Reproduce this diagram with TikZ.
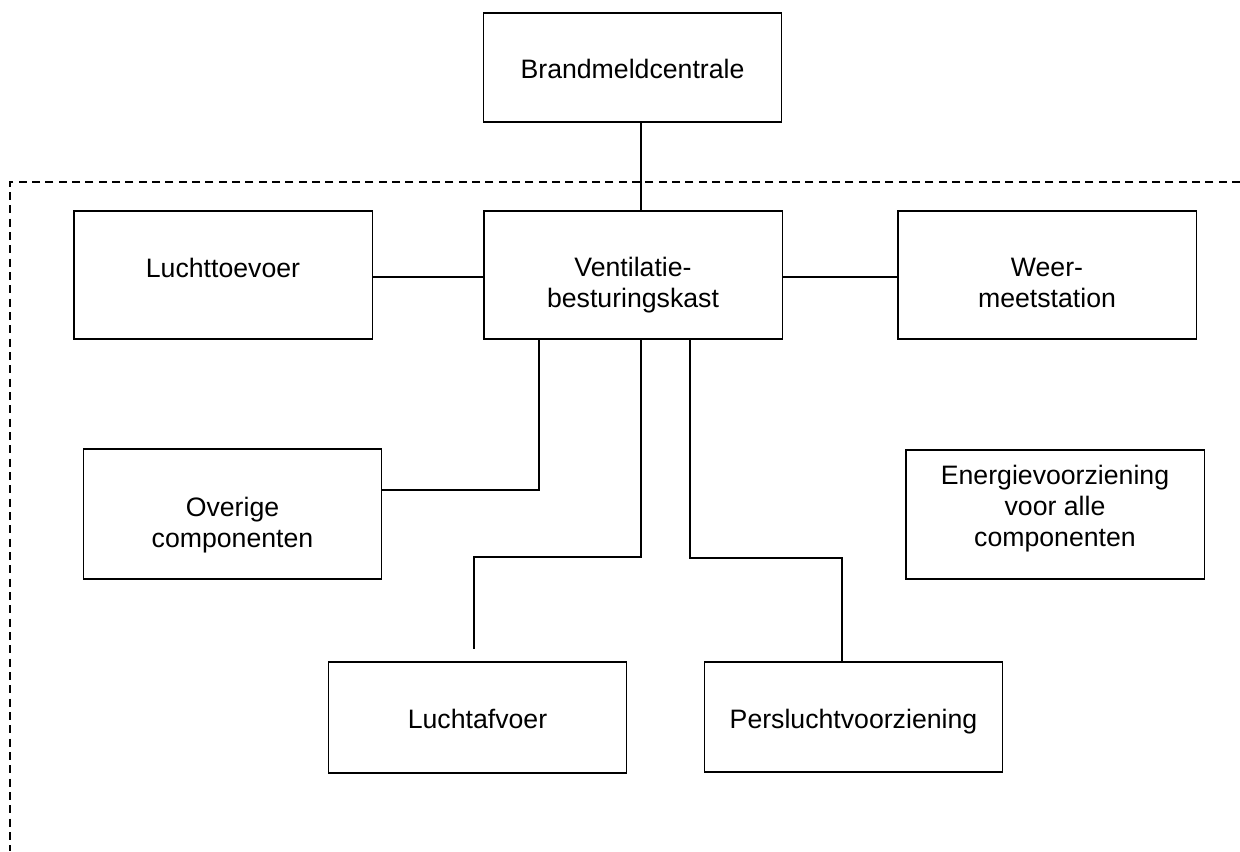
\documentclass[tikz,border=0pt]{standalone}
\usepackage{fontspec}
\setmainfont{Liberation Sans}
\begin{document}
\begin{tikzpicture}[x=0.75pt,y=-0.75pt,
  box/.style={draw,line width=1pt,rectangle,inner sep=0pt,minimum width=223.75pt},
  lbl/.style={anchor=base,align=center,inner sep=0pt,font=\fontsize{20}{23.2}\selectfont},
  conn/.style={line width=1pt},
  frame/.style={line width=1pt,dash pattern=on 6pt off 4pt}]
\useasboundingbox (0,0) rectangle (1240,851);
% boxes
\node[box,minimum height=81.75pt] (brand) at (632.5,67.5) {};
\node[box,minimum height=96pt] (lucht) at (223,275) {};
\node[box,minimum height=96pt] (vent) at (633,275) {};
\node[box,minimum height=96pt] (weer) at (1047,275) {};
\node[box,minimum height=97.5pt] (over) at (232.5,514) {};
\node[box,minimum height=96.75pt] (energ) at (1055,514.5) {};
\node[box,minimum height=83.25pt] (afv) at (477.5,717.5) {};
\node[box,minimum height=82.5pt] (persl) at (853.5,717) {};
% labels (base = baseline of last line)
\node[lbl] (tbrand) at (632.5,78) {Brandmeldcentrale};
\node[lbl] (tlucht) at (223,277) {Luchttoevoer};
\node[lbl] (tvent) at (633,307) {Ventilatie-\\besturingskast};
\node[lbl] (tweer) at (1047,307) {Weer-\\meetstation};
\node[lbl] (tover) at (232.5,547) {Overige\\componenten};
\node[lbl] (tenerg) at (1055,546) {Energievoorziening\\voor alle\\componenten};
\node[lbl] (tafv) at (477.5,728) {Luchtafvoer};
\node[lbl] (tpersl) at (853.5,728) {Persluchtvoorziening};
% helper coordinates
\coordinate (top) at (641,0);
\coordinate (hy) at (0,277);
\coordinate (a1) at (539,490);
\coordinate (m1) at (641,557);
\coordinate (m2) at (474,649);
\coordinate (r1) at (690,558);
\coordinate (r2) at (842,558);
% connectors
\draw[conn] (brand.south -| top) -- (vent.north -| top);
\draw[conn] (lucht.east |- hy) -- (vent.west |- hy);
\draw[conn] (vent.east |- hy) -- (weer.west |- hy);
\draw[conn] (vent.south -| a1) -- (a1) -- (over.east |- a1);
\draw[conn] (vent.south -| m1) -- (m1) -| (m2);
\draw[conn] (vent.south -| r1) -- (r1) -- (r2) -- (persl.north -| r2);
% dashed frame
\draw[frame] (1240,182) -- (10,182) -- (10,851);
\end{tikzpicture}
\end{document}
